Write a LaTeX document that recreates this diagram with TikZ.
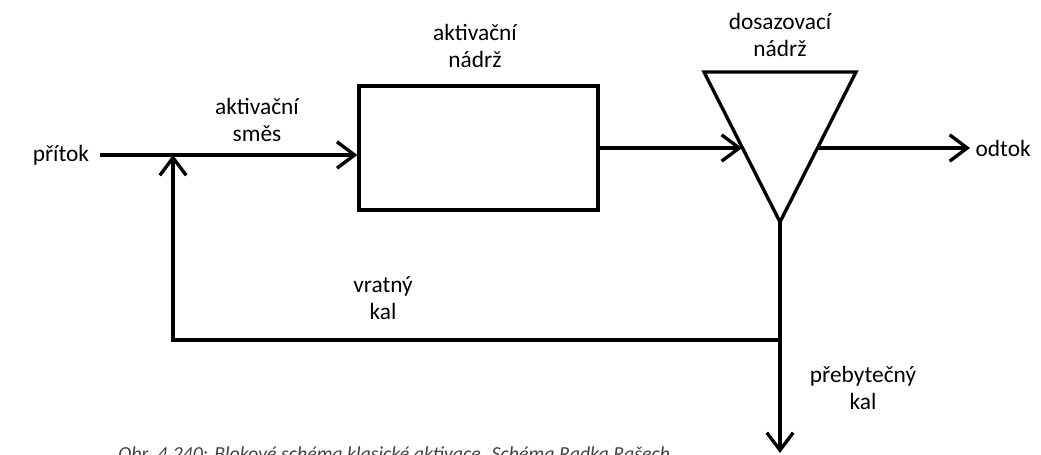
\documentclass[tikz,border=0pt]{standalone}
\usepackage{fontspec}
\setmainfont{Carlito}
\usetikzlibrary{arrows.meta,positioning}

\begin{document}
\begin{tikzpicture}[
  x=0.02cm, y=-0.02cm,
  pipe/.style={line width=1.9pt},
  flow/.style={pipe,-{Straight Barb[length=10pt,width=15pt]}},
  lbl/.style={font=\fontsize{13.3}{15.5}\selectfont,align=center,inner sep=0pt},
  tankbox/.style={rectangle,draw,line width=1.9pt,minimum width=4.78cm,minimum height=2.48cm,inner sep=0pt}
]
\useasboundingbox (0,0) rectangle (1041,455);

% aktivacni nadrz
\node[tankbox] (act) at (478.5,148) {};
\node[lbl] (actlbl) at (475,46) {aktivační\\ nádrž};

% dosazovaci nadrz
\coordinate (tl)   at (704,72);
\coordinate (tr)   at (856,72);
\coordinate (apex) at (780,222);
\draw[pipe,line join=miter] (tl) -- (tr) -- (apex) -- cycle;
\node[lbl] (doslbl) at (780,35) {dosazovací\\ nádrž};
\coordinate (inL)  at (742,148);
\coordinate (outR) at (818,148);

% vstup, vystup
\node[lbl,anchor=east,inner sep=6pt] (pritok) at (100,155) {přítok};
\node[lbl,anchor=west,inner sep=3pt] (odtok) at (970,148) {odtok};
\coordinate (jn)    at (173,155);
\coordinate (split) at (780,340);
\coordinate (drain) at (780,453);

\draw[flow] (pritok.east) -- (act.west |- pritok.east);
\draw[flow] (act.east |- inL) -- (inL);
\draw[flow] (outR) -- (odtok.west);
\draw[flow] (apex) -- (drain);
\draw[flow] (split) -| (jn);

\node[lbl] (smes)  at (257,120) {aktivační\\ směs};
\node[lbl] (vratny) at (383,298) {vratný\\ kal};
\node[lbl] (prebyt) at (863,388) {přebytečný\\ kal};

% popisek (oriznuty)
\node[anchor=base west,inner sep=0pt,font=\fontsize{11.3}{13}\selectfont\itshape,text=black!75] (cap) at (118,461)
  {Obr. 4.240: Blokové schéma klasické aktivace. Schéma Radka Rašech};
\end{tikzpicture}
\end{document}
